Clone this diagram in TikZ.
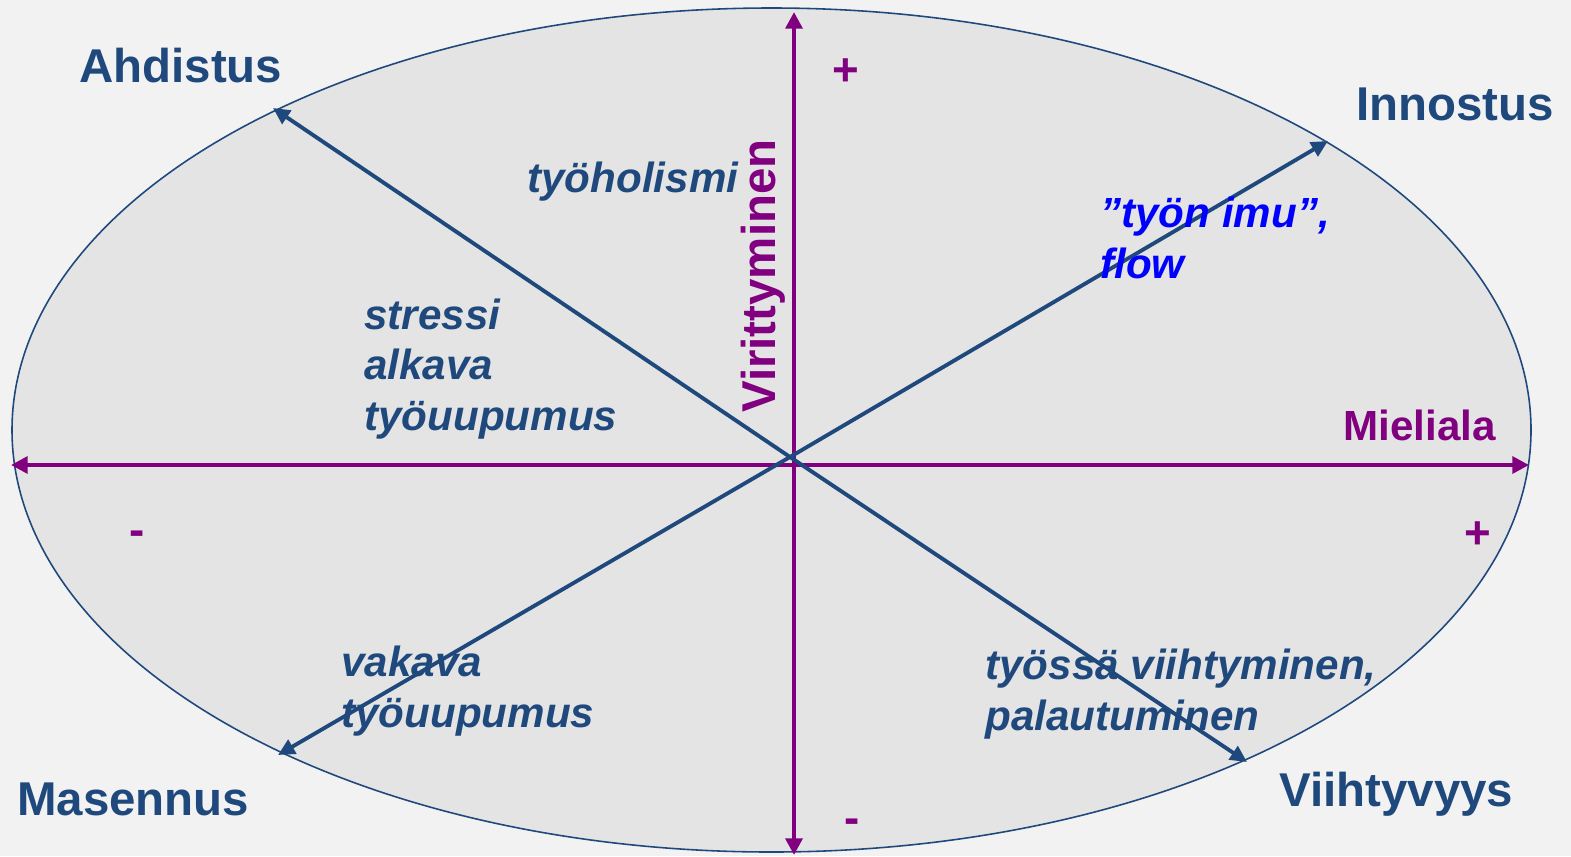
\documentclass[tikz,border=0pt]{standalone}
\usepackage{fontspec}
\setmainfont{Liberation Sans}
\usetikzlibrary{arrows.meta}
\definecolor{darkblue}{RGB}{31,73,125}
\definecolor{axispurple}{RGB}{128,0,128}
\definecolor{ovalgray}{RGB}{228,228,228}
\definecolor{pagegray}{RGB}{242,242,242}
\tikzset{
  corner/.style={font=\bfseries\fontsize{27}{32}\selectfont, text=darkblue, anchor=base west, inner sep=0pt},
  state/.style={font=\bfseries\itshape\fontsize{24}{28.5}\selectfont, text=darkblue, anchor=base west, inner sep=0pt, align=left},
  sign/.style={font=\bfseries\fontsize{26}{30}\selectfont, text=axispurple, inner sep=0pt},
  axis/.style={axispurple, line width=2.6pt, {Triangle[length=9.5pt,width=9.5pt]}-{Triangle[length=9.5pt,width=9.5pt]}},
  diag/.style={darkblue, line width=2.2pt, -{Triangle[length=9.5pt,width=9pt]}}
}
\begin{document}
\begin{tikzpicture}[x=0.02cm, y=-0.02cm]
  \useasboundingbox (0,0) rectangle (1571,856);
  \fill[pagegray] (0,0) rectangle (1571,856);
  % the oval
  \draw[darkblue, line width=0.9pt, fill=ovalgray] (771.5,430) ellipse [x radius=759.5, y radius=422];
  % axes
  \coordinate (mleft) at (11,465); \coordinate (mright) at (1529,465);
  \coordinate (vtop) at (794,12); \coordinate (vbot) at (794,855);
  \draw[axis] (mleft) -- (mright);
  \draw[axis] (vbot) -- (vtop);
  % diagonals
  \coordinate (origo) at (790,457);
  \coordinate (ahdtip) at (273,108); \coordinate (inntip) at (1328,141);
  \coordinate (mastip) at (278,755); \coordinate (viitip) at (1247,762);
  \draw[diag] (origo) -- (ahdtip);
  \draw[diag] (origo) -- (inntip);
  \draw[diag] (origo) -- (mastip);
  \draw[diag] (origo) -- (viitip);
  % corner labels
  \node[corner] (ahd) at (79,82) {Ahdistus};
  \node[corner] (inn) at (1356,120) {Innostus};
  \node[corner] (mas) at (17,815) {Masennus};
  \node[corner] (vii) at (1279,806) {Viihtyvyys};
  % axis labels and signs
  \node[font=\bfseries\fontsize{24}{29}\selectfont, text=axispurple, anchor=base west, inner sep=0pt] (mieli) at (1343,440) {Mieliala};
  \node[font=\bfseries\fontsize{27}{32}\selectfont, text=axispurple, anchor=base west, inner sep=0pt, rotate=90] (viri) at (775,413) {Virittyminen};
  \node[sign] (vplus) at (846,72) {+};
  \node[sign] (vminus) at (852,826) {-};
  \node[sign] (mminus) at (137,538) {-};
  \node[sign] (mplus) at (1478,535) {+};
  % states (base = last line)
  \node[state] (holismi) at (527,192) {työholismi};
  \node[state] (stressi) at (364,430) {stressi\\alkava\\työuupumus};
  \node[state, text=blue] (imu) at (1100,278) {”työn imu”,\\flow};
  \node[state] (vakava) at (341,727) {vakava\\työuupumus};
  \node[state] (viihty) at (985,730) {työssä viihtyminen,\\palautuminen};
\end{tikzpicture}
\end{document}
